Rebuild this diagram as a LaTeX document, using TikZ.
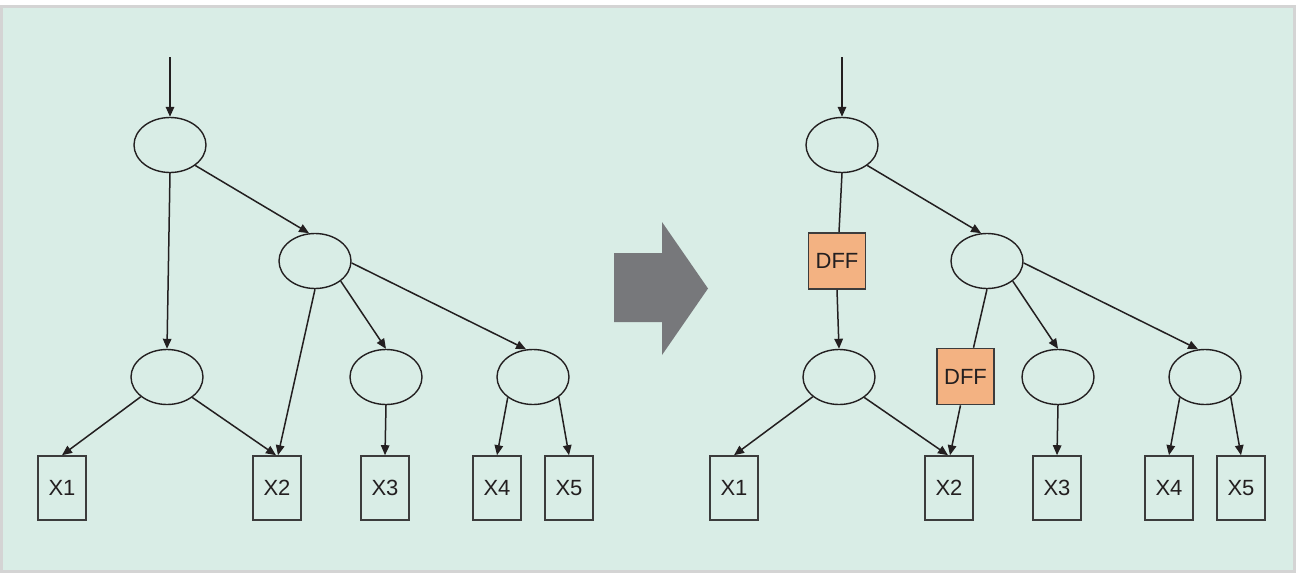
\documentclass[tikz,border=0pt]{standalone}
\usepackage{fontspec}
\setmainfont{Liberation Sans}
\usetikzlibrary{shapes.geometric,arrows.meta}

\definecolor{panel}{RGB}{217,237,230}
\definecolor{frame}{RGB}{212,212,212}
\definecolor{ink}{RGB}{35,31,32}
\definecolor{boxline}{RGB}{60,60,60}
\definecolor{dffill}{RGB}{243,178,130}
\definecolor{bigarrow}{RGB}{119,120,123}

\tikzset{
  vertex/.style={ellipse, draw=ink, line width=1.4pt, minimum width=72pt, minimum height=55pt, inner sep=0pt},
  leaf/.style={rectangle, draw=boxline, line width=1.6pt, minimum width=48pt, minimum height=64pt, inner sep=0pt,
               font=\fontsize{22}{26}\selectfont, text=ink},
  dffbox/.style={rectangle, draw=boxline, fill=dffill, line width=1.6pt, minimum width=57pt, minimum height=56pt,
               inner sep=0pt, font=\fontsize{22}{26}\selectfont, text=ink},
  edge/.style={draw=ink, line width=1.5pt, -{Triangle[length=10pt,width=8.5pt]}},
  link/.style={draw=ink, line width=1.5pt},
}

\begin{document}
\begin{tikzpicture}[x=1pt,y=-1pt]
  % page and framed panel
  \fill[white] (0,0) rectangle (1299,573);
  \useasboundingbox (0,0) rectangle (1299,573);
  \draw[frame, fill=panel, line width=3pt] (1.5,6) rectangle (1294.5,571.5);

  % ---------- tree before the transformation ----------
  \node[vertex] (A) at (170,145) {};
  \node[vertex] (B) at (315,261) {};
  \node[vertex] (C) at (167,377) {};
  \node[vertex] (D) at (386,377) {};
  \node[vertex] (E) at (533,377) {};
  \node[leaf] (X1) at (62,488) {X1};
  \node[leaf] (X2) at (277,488) {X2};
  \node[leaf] (X3) at (385,488) {X3};
  \node[leaf] (X4) at (497,488) {X4};
  \node[leaf] (X5) at (569,488) {X5};
  \coordinate (inA) at (170,57);

  \draw[edge] (inA) -- (A.north);
  \draw[edge] (A.-39) -- (B.102);
  \draw[edge] (A.south) -- (C.north);
  \draw[edge] (B.-38) -- (D.north);
  \draw[edge] (B.-3) -- (E.104);
  \draw[edge] (B.south) -- ([xshift=1pt]X2.north);
  \draw[edge] (C.-143) -- (X1.north);
  \draw[edge] (C.-39) -- ([xshift=-1pt]X2.north);
  \draw[edge] (D.south) -- (X3.north);
  \draw[edge] (E.-141) -- (X4.north);
  \draw[edge] (E.-38) -- (X5.north);

  % ---------- block arrow ----------
  \fill[bigarrow] (614,253) -- (662,253) -- (662,222) -- (708,288.5) -- (662,355) -- (662,322) -- (614,322) -- cycle;

  % ---------- tree with inserted flip-flops ----------
  \node[vertex] (RA) at (842,145) {};
  \node[vertex] (RB) at (987,261) {};
  \node[vertex] (RC) at (839,377) {};
  \node[vertex] (RD) at (1058,377) {};
  \node[vertex] (RE) at (1205,377) {};
  \node[leaf] (RX1) at (734,488) {X1};
  \node[leaf] (RX2) at (949,488) {X2};
  \node[leaf] (RX3) at (1057,488) {X3};
  \node[leaf] (RX4) at (1169,488) {X4};
  \node[leaf] (RX5) at (1241,488) {X5};
  \node[dffbox] (F1) at (837,261) {DFF};
  \node[dffbox] (F2) at (965.5,376.5) {DFF};
  \coordinate (inRA) at (842,57);

  \draw[edge] (inRA) -- (RA.north);
  \draw[edge] (RA.-39) -- (RB.102);
  \draw[link] (RA.south) -- ([xshift=2pt]F1.north);
  \draw[edge] (F1.south) -- (RC.north);
  \draw[edge] (RB.-38) -- (RD.north);
  \draw[edge] (RB.-3) -- (RE.104);
  \draw[link] (RB.south) -- ([xshift=8pt]F2.north);
  \draw[edge] ([xshift=-5pt]F2.south) -- ([xshift=1pt]RX2.north);
  \draw[edge] (RC.-143) -- (RX1.north);
  \draw[edge] (RC.-39) -- ([xshift=-1pt]RX2.north);
  \draw[edge] (RD.south) -- (RX3.north);
  \draw[edge] (RE.-141) -- (RX4.north);
  \draw[edge] (RE.-38) -- (RX5.north);
\end{tikzpicture}
\end{document}
